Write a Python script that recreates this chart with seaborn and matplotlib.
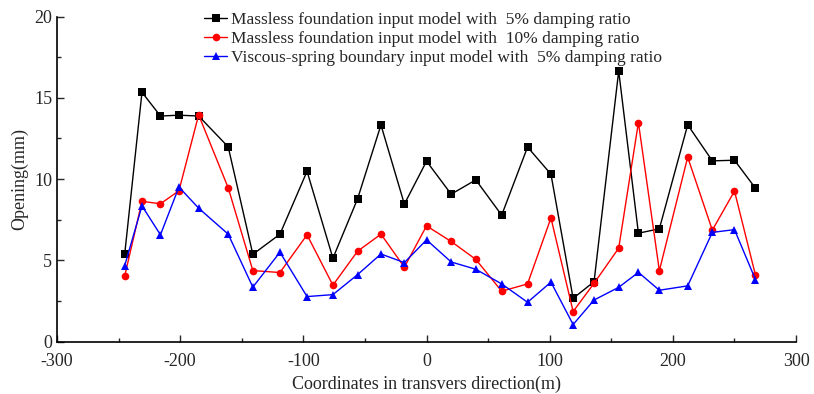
import matplotlib
matplotlib.use('Agg')
import matplotlib.pyplot as plt
import pandas as pd
import seaborn as sns
from matplotlib.ticker import MultipleLocator

coords = [-245, -231, -216, -201, -185, -161, -141, -119, -97, -76,
          -56, -37, -18, 0, 20, 40, 61, 82, 101, 119,
          136, 156, 172, 189, 212, 232, 250, 267]

massless_5 = [5.40, 15.34, 13.88, 13.93, 13.88, 11.98, 5.37, 6.61, 10.48, 5.13,
              8.78, 13.33, 8.46, 11.10, 9.07, 9.95, 7.78, 11.97, 10.30, 2.66,
              3.69, 16.65, 6.67, 6.94, 13.34, 11.12, 11.16, 9.44]

massless_10 = [4.04, 8.63, 8.48, 9.28, 13.95, 9.46, 4.37, 4.25, 6.57, 3.47,
               5.56, 6.61, 4.58, 7.12, 6.16, 5.06, 3.10, 3.55, 7.61, 1.85,
               3.59, 5.75, 13.48, 4.36, 11.35, 6.86, 9.26, 4.10]

viscous_5 = [4.68, 8.35, 6.57, 9.51, 8.21, 6.61, 3.35, 5.50, 2.77, 2.89,
             4.12, 5.39, 4.86, 6.26, 4.90, 4.45, 3.55, 2.42, 3.66, 1.05,
             2.56, 3.34, 4.26, 3.16, 3.43, 6.72, 6.89, 3.82]

labels = ['Massless foundation input model with  5% damping ratio',
          'Massless foundation input model with  10% damping ratio',
          'Viscous-spring boundary input model with  5% damping ratio']

sns.set_style('ticks')
plt.rcParams['font.family'] = ['Liberation Serif', 'DejaVu Serif']
plt.rcParams['axes.unicode_minus'] = False
plt.rcParams['xtick.direction'] = 'in'
plt.rcParams['ytick.direction'] = 'in'

df = pd.DataFrame({
    'x': coords * 3,
    'y': massless_5 + massless_10 + viscous_5,
    'series': [labels[0]] * len(coords) + [labels[1]] * len(coords) + [labels[2]] * len(coords),
})

fig = plt.figure(figsize=(8.14, 3.94), dpi=100)
ax = fig.add_axes([0.070, 0.133, 0.908, 0.825])

sns.lineplot(data=df, x='x', y='y', hue='series', style='series',
             palette=['black', 'red', 'blue'], markers=['s', 'o', '^'],
             dashes=False, markersize=5.5, markeredgewidth=0, linewidth=1,
             ax=ax)

ax.set_xlim(-300, 300)
ax.set_ylim(0, 20)
ax.xaxis.set_major_locator(MultipleLocator(100))
ax.xaxis.set_minor_locator(MultipleLocator(50))
ax.yaxis.set_major_locator(MultipleLocator(5))
ax.yaxis.set_minor_locator(MultipleLocator(2.5))
ax.tick_params(which='major', length=5, width=1, labelsize=13)
ax.tick_params(axis='x', which='major', pad=8)
ax.tick_params(which='minor', length=3, width=1)
for side in ['left', 'bottom']:
    ax.spines[side].set_linewidth(1.2)
    ax.spines[side].set_color('black')
sns.despine(ax=ax)

ax.set_xlabel('Coordinates in transvers direction(m)', fontsize=13, labelpad=4)
ax.set_ylabel('Opening(mm)', fontsize=13, labelpad=4)

ax.legend(loc='upper left', bbox_to_anchor=(0.19, 1.035), frameon=False,
          fontsize=12.5, handlelength=1.3, handletextpad=0.25,
          labelspacing=0.15, borderaxespad=0)

fig.savefig('out.png', dpi=100)
